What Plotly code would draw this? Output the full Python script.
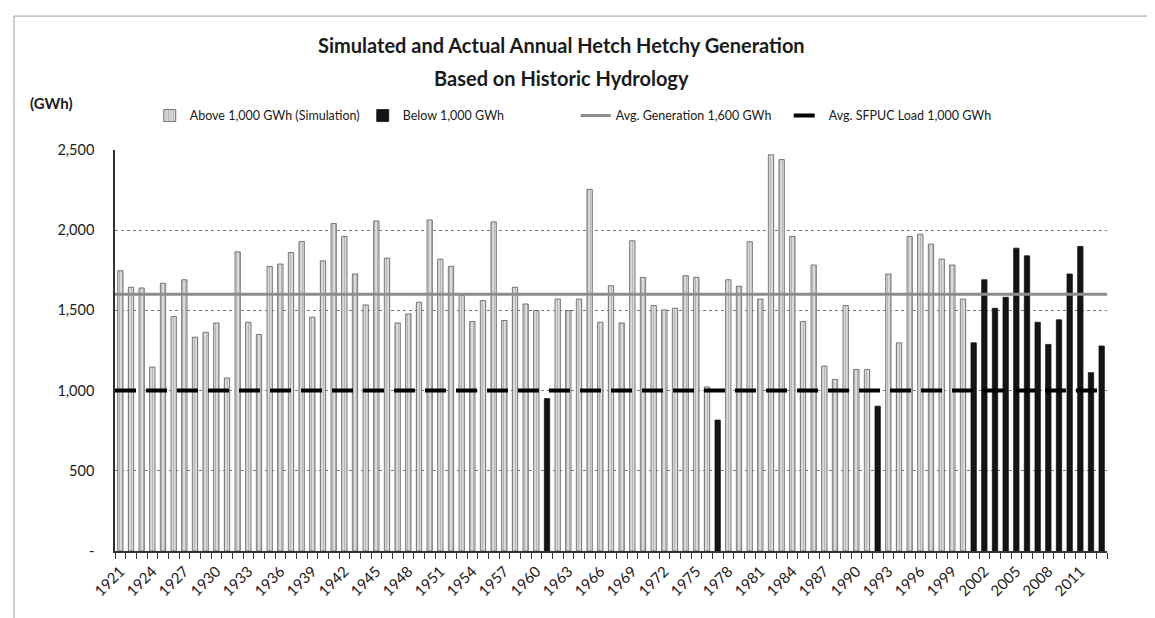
import plotly.graph_objects as go

# ---- data ----
years = list(range(1921, 2014))
generation = [
    1747, 1644, 1640, 1147, 1669, 1462, 1691, 1333, 1364, 1422,   # 1921-1930
    1079, 1865, 1426, 1350, 1774, 1789, 1861, 1930, 1458, 1809,   # 1931-1940
    2041, 1961, 1727, 1534, 2058, 1826, 1422, 1478, 1551, 2064,   # 1941-1950
    1820, 1774, 1595, 1431, 1561, 2052, 1437, 1644, 1540, 1499,   # 1951-1960
    950, 1571, 1499, 1571, 2255, 1426, 1654, 1422, 1934, 1706,    # 1961-1970
    1530, 1503, 1513, 1716, 1706, 1023, 816, 1691, 1650, 1928,    # 1971-1980
    1571, 2470, 2440, 1961, 1431, 1783, 1153, 1070, 1530, 1132,   # 1981-1990
    1132, 903, 1727, 1298, 1961, 1975, 1913, 1820, 1783, 1571,    # 1991-2000
    1298, 1691, 1513, 1582, 1888, 1840, 1426, 1288, 1441, 1727,   # 2001-2010
    1899, 1112, 1278,                                             # 2011-2013
]
last_simulated_year = 2000
avg_generation = 1600
avg_load = 1000

tick_years = list(range(1921, 2012, 3))
y_tickvals = [0, 500, 1000, 1500, 2000, 2500]
y_ticktext = ["-", "500", "1,000", "1,500", "2,000", "2,500"]

names = ["Above 1,000 GWh (Simulation)", "Below 1,000 GWh",
         "Avg. Generation 1,600 GWh", "Avg. SFPUC Load 1,000 GWh"]

# split into the two bar series
light = [v if (y <= last_simulated_year and v >= avg_load) else None
         for y, v in zip(years, generation)]
dark = [None if (y <= last_simulated_year and v >= avg_load) else v
        for y, v in zip(years, generation)]

FONT = "Lato, Calibri, Carlito, sans-serif"

fig = go.Figure()
fig.add_trace(go.Bar(
    x=years, y=light, name=names[0],
    marker=dict(color="#dadada", line=dict(color="#5a5a5a", width=0.8),
                pattern=dict(shape="|", fgcolor="#8a8a8a", size=3, solidity=0.3)),
))
fig.add_trace(go.Bar(
    x=years, y=dark, name=names[1],
    marker=dict(color="#141414", line=dict(color="#141414", width=0.8)),
))
fig.add_trace(go.Scatter(
    x=[years[0] - 0.5, years[-1] + 0.5], y=[avg_generation, avg_generation],
    mode="lines", name=names[2],
    line=dict(color="#8c8c8c", width=3),
))
fig.add_trace(go.Scatter(
    x=[years[0] - 0.5, years[-1] + 0.5], y=[avg_load, avg_load],
    mode="lines", name=names[3],
    line=dict(color="#000000", width=4, dash="21px,10px"),
))

fig.update_layout(
    width=1155, height=618,
    margin=dict(l=107, r=56, t=142, b=75),
    paper_bgcolor="white", plot_bgcolor="white",
    font=dict(family=FONT, color="#1a1a1a", size=13),
    barmode="overlay", bargap=0.5,
    showlegend=True,
    legend=dict(orientation="h", x=0.035, y=1.085, xanchor="left", yanchor="middle",
                font=dict(size=12.5, family=FONT), entrywidth=168,
                bgcolor="rgba(0,0,0,0)", traceorder="normal"),
    annotations=[
        dict(text="<b>Simulated and Actual Annual Hetch Hetchy Generation</b>",
             xref="paper", yref="paper", x=0.45, y=1.262, xanchor="center", yanchor="middle",
             showarrow=False, font=dict(size=20, family=FONT, color="#1a1a1a")),
        dict(text="<b>Based on Historic Hydrology</b>",
             xref="paper", yref="paper", x=0.45, y=1.18, xanchor="center", yanchor="middle",
             showarrow=False, font=dict(size=20, family=FONT, color="#1a1a1a")),
        dict(text="<b>(GWh)</b>",
             xref="paper", yref="paper", x=-0.088, y=1.117, xanchor="left", yanchor="middle",
             showarrow=False, font=dict(size=15, family=FONT, color="#1a1a1a")),
    ],
    shapes=[
        dict(type="rect", xref="paper", yref="paper",
             x0=-0.1018, x1=1.0514, y0=-0.25, y1=1.334,
             line=dict(color="#9a9a9a", width=1), fillcolor="rgba(0,0,0,0)", layer="below"),
    ],
)

fig.update_xaxes(
    range=[years[0] - 0.5, years[-1] + 0.5],
    tickmode="array", tickvals=tick_years, ticktext=[str(y) for y in tick_years],
    tickangle=-45, ticks="", tickfont=dict(size=15, family=FONT, color="#1a1a1a"),
    ticklabelstandoff=4,
    showline=True, linecolor="#333333", linewidth=1.5,
    showgrid=False, zeroline=False,
    minor=dict(tickmode="array", tickvals=[y - 0.5 for y in years] + [years[-1] + 0.5],
               ticks="outside", ticklen=6, tickcolor="#333333", tickwidth=1, showgrid=False),
)
fig.update_yaxes(
    range=[0, 2500],
    tickmode="array", tickvals=y_tickvals, ticktext=y_ticktext,
    tickfont=dict(size=14.5, family=FONT, color="#1a1a1a"),
    showline=True, linecolor="#333333", linewidth=1.5,
    showgrid=True, gridcolor="#777777", gridwidth=1, griddash="dot",
    zeroline=False, ticks="", ticklabelstandoff=16,
)

fig.write_html("out.html")
